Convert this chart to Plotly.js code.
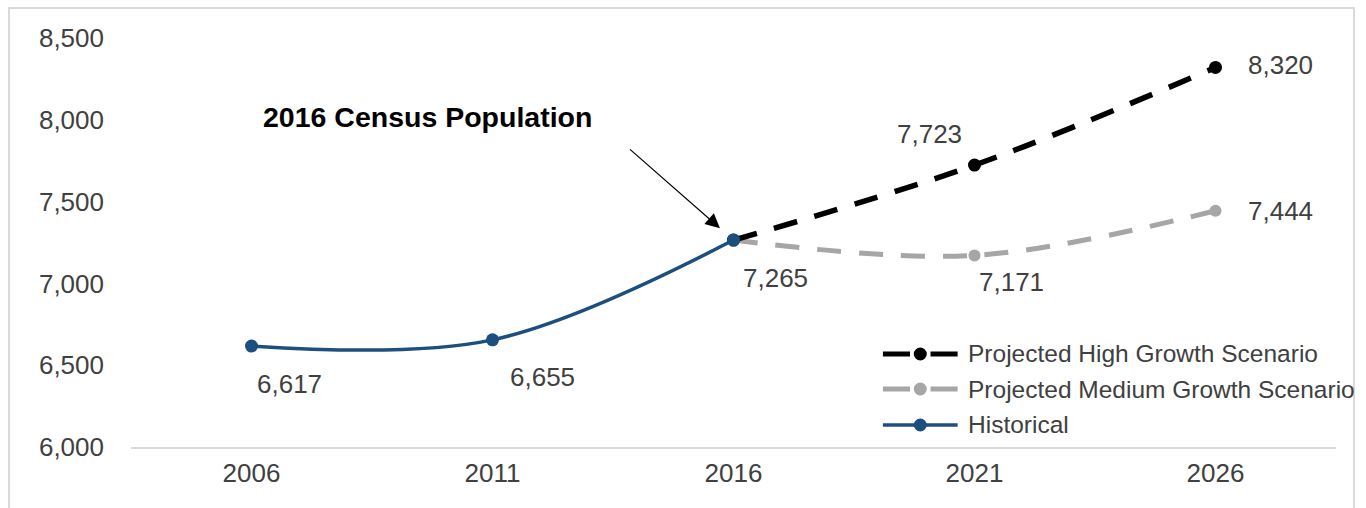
<!DOCTYPE html>
<html>
<head>
<meta charset="utf-8">
<script src="https://cdn.plot.ly/plotly-3.0.1.min.js"></script>
<style>
html,body{margin:0;padding:0;background:#fff;}
#chart{width:1366px;height:508px;}
</style>
</head>
<body>
<div id="chart"></div>
<script>
// ---- data ----
const years = ["2006", "2011", "2016", "2021", "2026"];
const historicalYears = ["2006", "2011", "2016"];
const historical = [6617, 6655, 7265];
const projYears = ["2016", "2021", "2026"];
const highGrowth = [7265, 7723, 8320];
const mediumGrowth = [7265, 7171, 7444];
const yTicks = [6000, 6500, 7000, 7500, 8000, 8500];
const seriesNames = ["Projected High Growth Scenario", "Projected Medium Growth Scenario", "Historical"];
const calloutText = "2016 Census Population";

// ---- styles ----
const cBlue = "#1c4f7e", cBlack = "#000000", cGray = "#a6a6a6", cText = "#404040";
const FONT = "Liberation Sans, Arial, sans-serif";

const traces = [
  {x: projYears, y: mediumGrowth, mode: "lines+markers", line: {color: cGray, width: 5, dash: "24px,18px", shape: "spline"},
   marker: {color: cGray, size: 12}, showlegend: false, hoverinfo: "x+y"},
  {x: projYears, y: highGrowth, mode: "lines+markers", line: {color: cBlack, width: 5.5, dash: "24px,18px", shape: "spline"},
   marker: {color: cBlack, size: 13}, showlegend: false, hoverinfo: "x+y"},
  {x: historicalYears, y: historical, mode: "lines+markers", line: {color: cBlue, width: 3.5, shape: "spline"},
   marker: {color: cBlue, size: 13}, showlegend: false, hoverinfo: "x+y"}
];

const fmt = v => v.toLocaleString("en-US");
const idx = yr => years.indexOf(yr);
const annotations = [];
// data labels (offsets in px)
const labelSpecs = [
  {xs: historicalYears, ys: historical, off: [[38,-38],[50,-37],[42,-38]]},
  {xs: projYears.slice(1), ys: mediumGrowth.slice(1), off: [[37,-27],[65,0]]},
  {xs: projYears.slice(1), ys: highGrowth.slice(1), off: [[-45,31],[65,2]]}
];
labelSpecs.forEach(s => s.xs.forEach((xv, i) => {
  annotations.push({x: idx(xv), y: s.ys[i], xref: "x", yref: "y", text: fmt(s.ys[i]), showarrow: false,
    xanchor: "center", yanchor: "middle",
    xshift: s.off[i][0], yshift: s.off[i][1], font: {family: FONT, size: 26, color: cText}});
}));
// callout
annotations.push({x: 0.246, y: 0.807, xref: "paper", yref: "paper", xanchor: "center", yanchor: "middle",
  text: "<b>" + calloutText + "</b>", showarrow: false, font: {family: FONT, size: 28.5, color: "#000"}});
annotations.push({x: idx("2016"), y: historical[2], xref: "x", yref: "y", text: "", showarrow: true, ax: -105, ay: -92,
  standoff: 18, arrowhead: 2, arrowsize: 2.4, arrowwidth: 1.2, arrowcolor: "#000"});

// custom legend
const legY = [0.2274, 0.1418, 0.0538];
const legColors = [cBlack, cGray, cBlue];
const legDashed = [true, true, false];
const shapes = [];
seriesNames.forEach((name, i) => {
  const y = legY[i];
  if (legDashed[i]) {
    shapes.push({type: "line", xref: "paper", yref: "paper", x0: 0.624, x1: 0.6465, y0: y, y1: y, line: {color: legColors[i], width: 5}});
    shapes.push({type: "line", xref: "paper", yref: "paper", x0: 0.6635, x1: 0.686, y0: y, y1: y, line: {color: legColors[i], width: 5}});
  } else {
    shapes.push({type: "line", xref: "paper", yref: "paper", x0: 0.624, x1: 0.686, y0: y, y1: y, line: {color: legColors[i], width: 3.5}});
  }
  shapes.push({type: "circle", xref: "paper", yref: "paper", xsizemode: "pixel", ysizemode: "pixel",
    xanchor: 0.655, yanchor: y, x0: -6.5, x1: 6.5, y0: -6.5, y1: 6.5, fillcolor: legColors[i], line: {width: 0}});
  annotations.push({x: 0.693, y: y, xref: "paper", yref: "paper", xanchor: "left", yanchor: "middle", text: name,
    showarrow: false, font: {family: FONT, size: 24.5, color: cText}});
});
// outer border
shapes.push({type: "rect", xref: "paper", yref: "paper", x0: -0.1012, x1: 1.0149, y0: -0.2, y1: 1.0733,
  line: {color: "#d9d9d9", width: 2}, fillcolor: "rgba(0,0,0,0)", layer: "below"});

const layout = {
  width: 1366, height: 508,
  margin: {l: 131, r: 30, t: 38, b: 61},
  paper_bgcolor: "#fff", plot_bgcolor: "#fff",
  showlegend: false,
  font: {family: FONT, color: cText},
  xaxis: {type: "category", categoryarray: years, categoryorder: "array", range: [-0.5, 4.5],
    showgrid: false, zeroline: false, showline: true, linecolor: "#d9d9d9", linewidth: 1.5,
    ticks: "", tickfont: {family: FONT, size: 26, color: cText}, ticklabelstandoff: 2, fixedrange: true},
  yaxis: {range: [6000, 8500], tickvals: yTicks, tickformat: ",", showgrid: false, zeroline: false, showline: false,
    ticks: "", tickfont: {family: FONT, size: 26, color: cText}, ticklabelstandoff: 26, fixedrange: true},
  annotations: annotations,
  shapes: shapes
};

Plotly.newPlot("chart", traces, layout, {displayModeBar: false, staticPlot: true});
</script>
</body>
</html>
